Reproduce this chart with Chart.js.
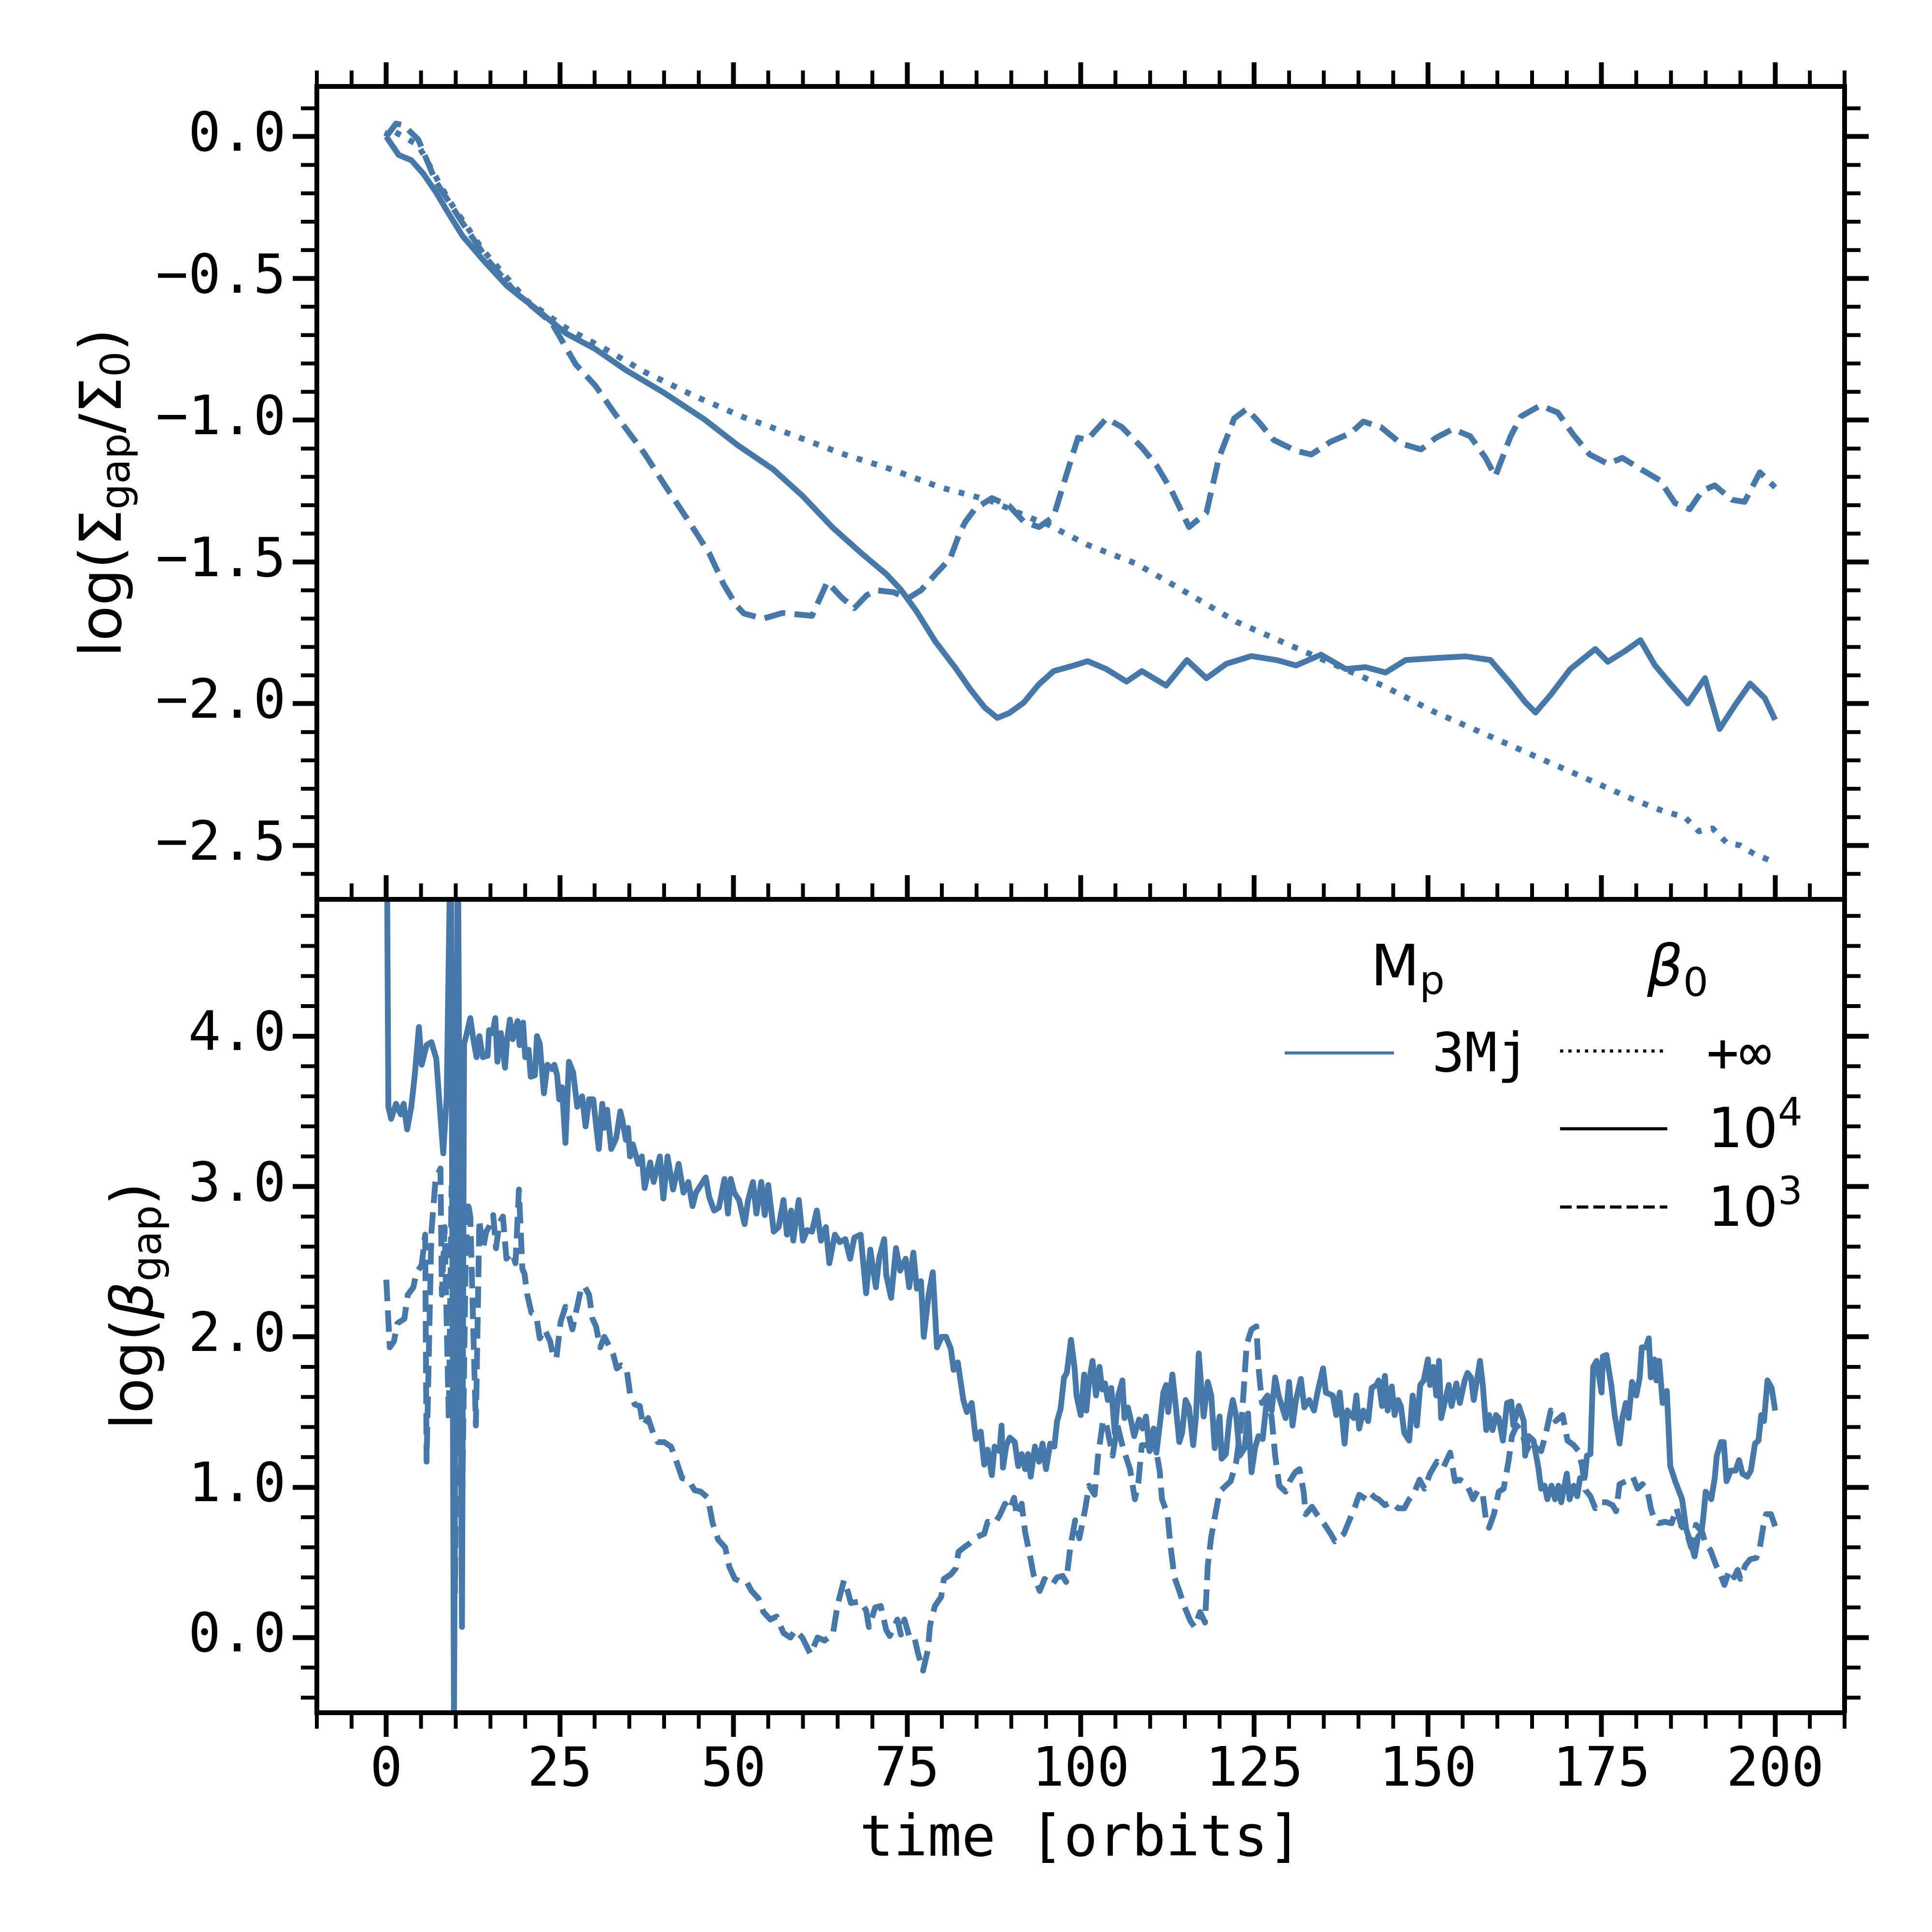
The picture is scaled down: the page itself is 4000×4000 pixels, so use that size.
<!DOCTYPE html>
<html>
<head>
<meta charset="utf-8">
<style>
  html, body { margin: 0; padding: 0; background: #fff; }
  #wrap { position: relative; width: 4000px; height: 4000px; }
  #wrap canvas { position: absolute; left: 0; top: 0; width: 4000px; height: 4000px; }
</style>
<script src="https://cdn.jsdelivr.net/npm/chart.js@4.4.1/dist/chart.umd.min.js"></script>
</head>
<body>
<div id="wrap">
  <canvas id="topPanel" width="4000" height="4000"></canvas>
  <canvas id="botPanel" width="4000" height="4000"></canvas>
</div>
<script>
// ---- data: [time in orbits, value] ----
const topInf = [[0,0],[0.4,0.027],[1,0.02],[4.6,-0.03],[8.9,-0.22],[13.9,-0.40],[20.3,-0.58],[25.9,-0.675],[31.6,-0.75],[37.2,-0.83],[44.4,-0.915],[51.5,-0.99],[58.6,-1.053],[65.6,-1.118],[72.7,-1.173],[79.8,-1.237],[86.9,-1.283],[93.3,-1.35],[95.5,-1.37],[97,-1.39],[101,-1.44],[108,-1.506],[115.3,-1.609],[122.4,-1.711],[129.6,-1.788],[136.8,-1.865],[143.9,-1.941],[151.1,-2.031],[158.3,-2.108],[165.5,-2.186],[172.7,-2.263],[179.8,-2.34],[184,-2.38],[187,-2.40],[189,-2.45],[191,-2.44],[193,-2.49],[195,-2.50],[197,-2.53],[200,-2.56]];

const topE4 = [[0,0],[1.8,-0.065],[3.6,-0.083],[5.3,-0.13],[7.1,-0.194],[8.9,-0.268],[11,-0.351],[13.9,-0.434],[17.4,-0.527],[21.7,-0.61],[25.9,-0.694],[30.1,-0.749],[34.4,-0.822],[40.1,-0.905],[45.8,-0.997],[50.7,-1.09],[55.7,-1.173],[59.9,-1.266],[64.2,-1.377],[68.4,-1.469],[72,-1.543],[74.1,-1.598],[76.3,-1.672],[79.1,-1.782],[82,-1.875],[84.1,-1.949],[86.2,-2.014],[88,-2.05],[89.7,-2.033],[91.8,-1.996],[94,-1.931],[96.1,-1.885],[98.9,-1.866],[101,-1.85],[103.7,-1.878],[106.6,-1.922],[108.8,-1.885],[112.3,-1.936],[115.3,-1.846],[118.1,-1.91],[121,-1.859],[124.6,-1.832],[128.2,-1.846],[131,-1.865],[134.6,-1.827],[138.2,-1.878],[141,-1.871],[143.9,-1.89],[146.8,-1.846],[151.1,-1.839],[155.4,-1.833],[159,-1.846],[161.9,-1.929],[164,-1.994],[165.5,-2.031],[167.7,-1.968],[170.5,-1.878],[174.1,-1.807],[175.9,-1.852],[178.4,-1.814],[180.6,-1.776],[182.7,-1.865],[184.9,-1.929],[187.4,-1.999],[189.9,-1.91],[192,-2.089],[194.2,-2.006],[196.4,-1.929],[198.5,-1.98],[200,-2.057]];

const topE3 = [[0,0],[1.4,0.046],[2.5,0.04],[4.6,-0.01],[7.1,-0.157],[11,-0.305],[14.6,-0.435],[18.8,-0.554],[23.8,-0.656],[27.3,-0.804],[30.1,-0.878],[33,-0.98],[37.2,-1.118],[40.1,-1.229],[43.6,-1.358],[46.5,-1.469],[48.6,-1.58],[50.4,-1.653],[51.5,-1.682],[54.3,-1.70],[57.1,-1.68],[61.3,-1.69],[63.5,-1.571],[65.6,-1.626],[67.4,-1.663],[69.2,-1.617],[70.6,-1.60],[73.1,-1.607],[75,-1.63],[77,-1.60],[79.1,-1.543],[81.2,-1.488],[82.6,-1.396],[83.4,-1.358],[84.8,-1.312],[87.2,-1.275],[89.7,-1.302],[91.8,-1.358],[94,-1.377],[96.1,-1.34],[96.8,-1.283],[98.2,-1.172],[99.6,-1.062],[100.9,-1.07],[103.7,-0.994],[105.9,-1.024],[108.8,-1.096],[110.9,-1.159],[113.1,-1.249],[115.6,-1.377],[118.1,-1.326],[119.9,-1.133],[122.1,-0.994],[123.9,-0.961],[125.6,-1.005],[127.8,-1.07],[131,-1.108],[133.2,-1.121],[136,-1.076],[138.9,-1.045],[140.7,-1.005],[143.2,-1.024],[146.1,-1.082],[149,-1.103],[151.1,-1.063],[153.6,-1.031],[156.1,-1.057],[158.3,-1.133],[159.7,-1.198],[161.9,-1.057],[163.4,-0.987],[166.2,-0.948],[168.7,-0.973],[170.9,-1.05],[173.3,-1.121],[175.9,-1.154],[178,-1.133],[180.6,-1.172],[183.4,-1.212],[185.6,-1.293],[187.7,-1.314],[189.5,-1.249],[191.3,-1.23],[193.8,-1.281],[195.6,-1.288],[197.8,-1.184],[200,-1.237]];

const botE4 = [[0,6],[0.3,3.53],[0.7,3.45],[1.4,3.55],[2.1,3.48],[2.5,3.55],[3.0,3.38],[3.6,3.53],[4.1,3.74],[4.7,4.06],[5.1,3.81],[5.8,3.94],[6.5,3.96],[7.2,3.85],[7.7,3.53],[8.2,3.22],[8.7,3.60],[9.3,5.5],[9.75,-0.6],[10.3,5.5],[10.9,0.07],[11.2,3.95],[11.5,4.0],[12.1,4.12],[12.5,3.99],[13,3.86],[13.4,4.0],[13.9,3.86],[14.6,3.87],[14.8,4.04],[15.3,4.02],[15.7,4.12],[16.0,3.83],[16.5,4.02],[17.1,3.79],[17.4,3.98],[17.8,4.11],[18.2,3.98],[18.9,4.1],[19.2,3.94],[19.7,4.09],[20.0,3.86],[20.5,3.91],[20.8,3.73],[21.4,3.74],[21.7,4.0],[22.1,3.95],[22.7,3.62],[23.2,3.81],[23.9,3.78],[24.2,3.81],[24.6,3.74],[24.9,3.58],[25.3,3.66],[25.8,3.29],[26.3,3.83],[26.9,3.76],[27.5,3.53],[28.2,3.60],[28.7,3.40],[29.2,3.58],[29.8,3.58],[30.6,3.25],[31.1,3.55],[31.4,3.39],[31.8,3.51],[32.4,3.25],[33.1,3.32],[33.7,3.50],[34.0,3.44],[34.5,3.31],[34.8,3.39],[35.1,3.20],[35.5,3.28],[36.3,3.15],[36.8,3.20],[37.2,2.99],[38.0,3.16],[38.5,3.03],[39.4,3.20],[39.9,2.92],[40.5,3.20],[41.3,2.98],[42.1,3.15],[42.8,2.96],[43.5,3.03],[44.1,2.87],[44.6,2.96],[46.0,3.06],[46.5,2.93],[47.2,2.84],[47.9,2.86],[48.7,3.05],[49.2,2.82],[49.6,3.05],[50.1,2.96],[50.8,2.91],[51.6,2.75],[52.1,2.91],[52.8,3.03],[53.3,2.82],[54.0,3.03],[54.5,2.81],[55.0,3.01],[55.8,2.70],[56.5,2.73],[57.2,2.91],[57.7,2.68],[58.3,2.84],[58.6,2.64],[59.4,2.91],[60.0,2.64],[60.6,2.71],[61.3,2.70],[62.0,2.84],[62.6,2.64],[63.3,2.73],[63.8,2.49],[64.6,2.68],[65.3,2.63],[66.1,2.65],[66.8,2.52],[67.4,2.66],[68.3,2.68],[69.1,2.29],[69.7,2.58],[70.5,2.33],[71.0,2.53],[71.7,2.65],[72.0,2.41],[72.7,2.26],[73.4,2.59],[74.0,2.44],[74.8,2.52],[75.3,2.33],[75.9,2.56],[76.4,2.32],[77.0,2.37],[77.4,2.0],[78.1,2.28],[78.7,2.43],[79.3,1.93],[80.0,2.0],[80.6,2.0],[81.3,1.92],[81.7,1.78],[82.3,1.83],[83.1,1.58],[83.6,1.50],[84.3,1.56],[84.9,1.32],[85.6,1.37],[86.1,1.15],[86.6,1.25],[87.2,1.08],[87.6,1.27],[88.3,1.24],[88.6,1.41],[88.8,1.13],[89.3,1.28],[89.8,1.33],[90.5,1.30],[91.0,1.14],[91.5,1.22],[92.0,1.12],[92.4,1.22],[92.8,1.07],[93.4,1.27],[94.0,1.17],[94.5,1.29],[95.0,1.12],[95.6,1.29],[96.2,1.27],[96.6,1.44],[97.1,1.52],[97.6,1.73],[98.0,1.76],[98.6,1.98],[99.1,1.80],[99.4,1.61],[100.0,1.48],[100.5,1.75],[100.8,1.51],[101.2,1.70],[101.7,1.84],[102.2,1.61],[102.7,1.80],[103.1,1.65],[103.5,1.69],[103.9,1.58],[104.4,1.66],[104.9,1.36],[105.4,1.61],[106.0,1.71],[106.3,1.46],[106.8,1.53],[107.2,1.45],[107.7,1.34],[108.4,1.45],[108.9,1.39],[109.4,1.47],[109.9,1.24],[110.5,1.39],[110.9,1.23],[111.4,1.42],[111.9,1.63],[112.3,1.68],[112.6,1.50],[113.2,1.75],[113.6,1.58],[114.2,1.30],[114.6,1.36],[115.1,1.58],[115.6,1.53],[116.2,1.28],[116.6,1.47],[117.0,1.89],[117.3,1.70],[117.7,1.47],[118.3,1.70],[118.8,1.61],[119.3,1.26],[120.0,1.47],[120.3,1.19],[120.9,1.22],[121.4,1.45],[121.9,1.58],[122.4,1.47],[122.9,1.21],[123.6,1.26],[124.1,1.49],[124.6,1.10],[125.1,1.26],[125.6,1.34],[126.2,1.32],[126.8,1.58],[127.5,1.51],[128.0,1.73],[128.5,1.61],[129.5,1.46],[130.0,1.70],[130.5,1.41],[131.0,1.58],[131.7,1.72],[132.2,1.53],[132.9,1.58],[133.6,1.51],[134.1,1.63],[134.9,1.79],[135.3,1.63],[136.3,1.61],[136.8,1.48],[137.3,1.63],[138.0,1.29],[138.4,1.51],[139.3,1.46],[139.7,1.61],[140.1,1.39],[140.7,1.51],[141.4,1.44],[141.9,1.66],[142.6,1.68],[142.9,1.71],[143.4,1.54],[143.8,1.74],[144.2,1.51],[144.8,1.67],[145.2,1.48],[145.7,1.58],[146.1,1.54],[146.6,1.36],[147.3,1.31],[147.8,1.61],[148.4,1.41],[148.9,1.68],[149.4,1.71],[150.0,1.85],[150.3,1.68],[150.8,1.80],[151.2,1.61],[151.6,1.84],[151.9,1.46],[152.5,1.58],[153.0,1.68],[153.4,1.54],[154.1,1.69],[154.6,1.56],[155.3,1.71],[155.7,1.76],[156.2,1.73],[156.6,1.58],[157.5,1.84],[157.9,1.68],[158.4,1.38],[158.8,1.48],[159.3,1.38],[159.8,1.48],[160.2,1.46],[160.8,1.31],[161.4,1.56],[162.0,1.57],[162.3,1.41],[163.1,1.54],[163.8,1.44],[164.0,1.21],[164.5,1.34],[165.2,1.31],[165.9,1.13],[166.3,0.99],[166.8,1.01],[167.2,0.92],[167.8,1.01],[168.3,0.92],[168.8,1.01],[169.2,0.90],[170.0,1.09],[170.4,0.92],[171.0,1.01],[171.5,0.94],[171.9,1.06],[172.6,1.07],[172.9,1.21],[173.4,1.22],[173.8,1.80],[174.3,1.84],[175.0,1.63],[175.2,1.87],[175.7,1.88],[176.4,1.68],[176.9,1.48],[177.6,1.29],[178.0,1.46],[178.5,1.56],[178.9,1.46],[179.4,1.70],[180.0,1.61],[180.5,1.73],[180.8,1.93],[181.4,1.93],[181.8,1.99],[182.1,1.73],[182.6,1.85],[182.9,1.71],[183.3,1.84],[183.8,1.56],[184.4,1.64],[184.9,1.14],[185.6,1.04],[186.6,0.92],[187.2,0.72],[187.9,0.62],[188.4,0.54],[188.9,0.67],[189.4,0.70],[189.7,0.82],[190.0,0.97],[190.8,0.92],[191.3,1.06],[191.6,1.21],[192.2,1.30],[192.6,1.30],[193.0,1.04],[193.6,1.11],[194.3,1.11],[194.8,1.18],[195.3,1.09],[196.0,1.07],[196.5,1.11],[197.1,1.29],[197.6,1.31],[198.0,1.48],[198.4,1.44],[198.9,1.71],[199.5,1.66],[200,1.51]];

const botE3 = [[0,2.38],[0.5,1.93],[1.1,1.97],[1.6,2.09],[2.6,2.12],[3.1,2.28],[3.9,2.33],[4.3,2.42],[5.1,2.48],[5.6,2.68],[5.8,1.17],[6.5,2.70],[7.1,3.05],[7.8,3.12],[8.0,2.28],[8.4,2.73],[9.0,1.45],[9.4,3.0],[9.9,0.3],[10.4,3.2],[10.9,0.8],[11.4,2.42],[11.7,2.91],[12.1,2.80],[12.9,1.41],[13.4,2.78],[13.9,2.58],[14.4,2.70],[14.9,2.74],[15.4,2.81],[15.8,2.59],[16.3,2.76],[16.8,2.80],[17.3,2.52],[18.1,2.56],[18.6,2.49],[19.1,2.98],[19.6,2.45],[19.9,2.42],[20.3,2.28],[20.9,2.16],[21.6,2.14],[22.1,1.99],[22.8,2.05],[23.6,1.97],[24.1,1.86],[24.5,1.86],[25.1,2.10],[25.8,2.20],[26.3,2.14],[26.8,2.05],[27.3,2.16],[28.0,2.31],[28.5,2.34],[29.2,2.28],[29.7,2.12],[30.2,2.07],[30.8,1.93],[31.4,2.00],[32.2,1.93],[32.7,1.88],[33.2,1.79],[33.8,1.81],[34.6,1.79],[35.1,1.62],[35.8,1.55],[36.5,1.54],[37.0,1.41],[37.7,1.46],[38.5,1.35],[39.1,1.30],[40.0,1.30],[41.0,1.27],[41.8,1.17],[42.6,1.06],[43.5,1.05],[44.4,0.98],[45.3,0.97],[46.3,0.93],[47.0,0.76],[47.8,0.65],[48.8,0.60],[49.4,0.47],[50.2,0.39],[51.1,0.37],[51.9,0.37],[52.6,0.31],[53.6,0.26],[54.3,0.17],[55.3,0.12],[56.2,0.14],[57.2,0.03],[58.2,0.00],[58.9,0.05],[59.9,0.00],[61.1,-0.11],[62.1,0.00],[63.1,-0.02],[64.3,0.02],[65.0,0.22],[65.9,0.38],[66.5,0.30],[66.9,0.23],[68.3,0.24],[69.1,0.18],[69.5,0.07],[70.4,0.20],[71.2,0.21],[72.0,0.05],[72.5,0.01],[73.6,0.12],[74.1,0.02],[74.6,0.12],[75.3,0.01],[76.0,0.01],[76.6,-0.11],[77.3,-0.22],[78.0,-0.08],[78.3,0.08],[79.0,0.21],[79.9,0.27],[80.3,0.39],[81.3,0.42],[82.0,0.46],[82.4,0.57],[83.2,0.60],[84.1,0.63],[85.1,0.67],[86.1,0.69],[86.6,0.77],[87.6,0.76],[88.3,0.81],[89.1,0.89],[89.8,0.85],[90.4,0.93],[90.8,0.81],[91.5,0.89],[92.0,0.70],[92.8,0.52],[93.2,0.42],[94.1,0.31],[94.8,0.39],[95.9,0.35],[96.6,0.40],[97.4,0.41],[97.9,0.37],[98.5,0.60],[99.2,0.78],[99.8,0.66],[100.2,0.75],[100.7,0.87],[101.2,1.01],[102.0,0.95],[102.5,1.21],[103.2,1.44],[103.6,1.44],[104.6,1.21],[105.3,1.41],[106.1,1.26],[107.1,1.12],[107.8,0.92],[108.3,1.03],[108.8,1.28],[109.6,1.28],[110.4,1.21],[111.0,1.21],[111.4,1.10],[111.7,0.92],[112.5,0.82],[112.9,0.62],[113.5,0.40],[114.2,0.31],[114.9,0.21],[115.8,0.11],[116.4,0.07],[117.2,0.17],[117.9,0.10],[118.3,0.48],[118.8,0.67],[119.3,0.80],[120.0,0.97],[120.9,1.01],[121.6,1.04],[122.4,1.17],[123.2,1.46],[123.9,1.95],[124.6,2.05],[125.3,2.07],[125.6,1.80],[126.1,1.56],[126.9,1.61],[127.5,1.46],[128.0,1.21],[128.6,1.01],[129.5,0.97],[130.1,1.04],[130.9,1.10],[131.5,1.12],[132.1,0.97],[132.4,0.82],[133.3,0.87],[134.0,0.82],[135.0,0.76],[136.0,0.69],[136.6,0.64],[137.9,0.69],[138.6,0.77],[139.5,0.87],[140.1,0.95],[141.1,0.92],[141.7,0.96],[142.4,0.93],[142.9,0.92],[143.8,0.88],[144.7,0.90],[145.7,0.86],[146.6,0.86],[147.3,0.92],[148.0,0.96],[148.8,1.05],[149.5,0.99],[150.3,1.09],[151.3,1.17],[152.2,1.13],[153.2,1.23],[153.9,1.04],[154.6,1.05],[155.6,1.02],[156.5,0.92],[157.2,0.98],[157.9,0.95],[158.4,0.77],[158.8,0.73],[159.5,0.82],[160.2,0.97],[160.9,0.99],[161.6,1.17],[162.1,1.34],[162.8,1.41],[163.6,1.36],[164.2,1.24],[164.9,1.31],[165.6,1.26],[166.3,1.24],[167.0,1.36],[167.7,1.51],[168.4,1.44],[169.4,1.48],[170.1,1.31],[171.0,1.28],[171.7,1.24],[172.2,1.14],[172.7,0.98],[173.4,0.94],[174.1,0.86],[174.8,0.90],[175.7,0.90],[176.6,0.88],[177.1,0.84],[177.6,1.02],[178.5,1.04],[179.5,1.07],[180.2,0.99],[180.9,1.02],[181.6,0.98],[182.1,0.86],[182.5,0.80],[183.2,0.76],[184.1,0.77],[185.1,0.76],[185.8,0.86],[186.5,0.74],[187.2,0.71],[187.9,0.60],[188.6,0.75],[189.5,0.70],[190.0,0.62],[190.7,0.58],[191.5,0.48],[192.2,0.41],[192.7,0.35],[193.4,0.45],[194.1,0.40],[194.6,0.45],[195.0,0.39],[195.7,0.48],[196.4,0.52],[197.3,0.53],[197.8,0.60],[198.3,0.74],[198.7,0.82],[199.4,0.82],[200,0.74]];

const xRange = [-10, 210];
const topRange = [-2.69, 0.177];
const botRange = [-0.5, 4.91];

const legendMass = ['3Mj'];
const legendBeta = ['+\u221e', '10', '10'];
const legendBetaExp = ['', '4', '3'];

// ---- look ----
const BLUE = 'rgb(70,120,170)';
const MONO = '"DejaVu Sans Mono"';
const SANS = '"DejaVu Sans"';
const LW = 12;
const DASH = [3.7 * LW, 1.6 * LW];
const DOT = [1 * LW, 1.65 * LW];

// chart area edges in page pixels
const L = 656, R = 3819, T = 179, M = 1862, B = 3546;

const fix = size => s => { if (s.isHorizontal()) s.height = size; else s.width = size; };
const fmt1 = v => (Math.abs(v) < 1e-9 ? 0 : v).toFixed(1).replace('-', '\u2212');
const fmt0 = v => String(Math.round(v));
const none = () => '';

function axis(position, range, step, size, cb, pad) {
  return {
    type: 'linear', position, min: range[0], max: range[1],
    afterFit: fix(size),
    border: { display: true, color: '#000', width: 10, z: 1 },
    grid: { drawOnChartArea: false, drawTicks: true, tickLength: 50, tickWidth: 10, tickColor: '#000' },
    ticks: { stepSize: step, includeBounds: false, autoSkip: false, maxRotation: 0,
             padding: pad, color: '#000', font: { family: MONO, size: 112 }, callback: cb }
  };
}

function line(data, dash) {
  return {
    data: data.map(p => ({ x: p[0], y: p[1] })),
    borderColor: BLUE, borderWidth: LW, borderDash: dash,
    borderCapStyle: 'butt', borderJoinStyle: 'round',
    pointRadius: 0, fill: false, tension: 0
  };
}

// draws pieces of text one after another: [text, font, dy]
function rich(ctx, parts, x, y, rot, centred) {
  ctx.save();
  ctx.translate(x, y);
  ctx.rotate(rot);
  ctx.fillStyle = '#000';
  ctx.textBaseline = 'alphabetic';
  ctx.textAlign = 'left';
  let total = 0;
  const w = parts.map(p => { ctx.font = p[1]; const m = ctx.measureText(p[0]).width; total += m; return m; });
  let cur = centred ? -total / 2 : 0;
  parts.forEach((p, i) => { ctx.font = p[1]; ctx.fillText(p[0], cur, p[2] || 0); cur += w[i]; });
  ctx.restore();
}

const minorTicks = {
  id: 'minorTicks',
  afterDraw(chart, args, opts) {
    const ctx = chart.ctx;
    ctx.save();
    ctx.strokeStyle = '#000';
    ctx.lineWidth = 8;
    ctx.lineCap = 'butt';
    for (const m of opts.list) {
      const s = chart.scales[m.id];
      const n = Math.round((m.to - m.from) / m.step);
      for (let i = 0; i <= n; i++) {
        const v = Math.round((m.from + i * m.step) * 1000) / 1000;
        const q = v / m.major;
        if (Math.abs(q - Math.round(q)) < 1e-6) continue;
        const p = s.getPixelForValue(v);
        ctx.beginPath();
        if (s.position === 'left') { ctx.moveTo(s.right, p); ctx.lineTo(s.right - 33, p); }
        else if (s.position === 'right') { ctx.moveTo(s.left, p); ctx.lineTo(s.left + 33, p); }
        else if (s.position === 'top') { ctx.moveTo(p, s.bottom); ctx.lineTo(p, s.bottom - 33); }
        else { ctx.moveTo(p, s.top); ctx.lineTo(p, s.top + 33); }
        ctx.stroke();
      }
    }
    ctx.restore();
  }
};

const yTitles = {
  id: 'yTitles',
  afterDraw(chart, args, opts) {
    const big = '120px ' + SANS, small = '84px ' + SANS;
    rich(chart.ctx, opts.parts.map(p => [p[0], p[1] === 'sub' ? small : (p[1] === 'it' ? 'italic ' + big : big), p[1] === 'sub' ? 18 : 0]),
         opts.x, opts.y, -Math.PI / 2, true);
  }
};

const legendBox = {
  id: 'legendBox',
  afterDraw(chart) {
    const ctx = chart.ctx;
    const head = '117px ' + SANS, headSub = '82px ' + SANS;
    rich(ctx, [['M', head], ['p', headSub, 18]], 2838, 2040, 0, false);
    rich(ctx, [['\u03b2', 'italic ' + head], ['0', headSub, 22]], 3410, 2040, 0, false);

    ctx.save();
    ctx.lineCap = 'butt';
    ctx.lineWidth = 6.5;
    ctx.strokeStyle = BLUE;
    ctx.beginPath(); ctx.moveTo(2660, 2180); ctx.lineTo(2886, 2180); ctx.stroke();
    ctx.strokeStyle = '#000';
    const rows = [2176, 2337, 2499];
    const dashes = [[6.5, 10.7], [], [24, 10.4]];
    rows.forEach((y, i) => {
      ctx.setLineDash(dashes[i]);
      ctx.beginPath(); ctx.moveTo(3230, y); ctx.lineTo(3452, y); ctx.stroke();
    });
    ctx.restore();

    rich(ctx, [[legendMass[0], '112px ' + MONO]], 2965, 2218, 0, false);
    rich(ctx, [[legendBeta[0], '112px ' + MONO]], 3533, 2218, 0, false);
    rich(ctx, [[legendBeta[1], '114px ' + SANS], [legendBetaExp[1], '80px ' + SANS, -45]], 3536, 2375, 0, false);
    rich(ctx, [[legendBeta[2], '114px ' + SANS], [legendBetaExp[2], '80px ' + SANS, -45]], 3536, 2538, 0, false);
  }
};

const base = {
  responsive: false, animation: false, devicePixelRatio: 1, events: [],
  plugins: { legend: { display: false }, tooltip: { enabled: false } }
};

// ---- top panel: log(Sigma_gap / Sigma_0) ----
new Chart(document.getElementById('topPanel'), {
  type: 'line',
  data: { datasets: [line(topInf, DOT), line(topE4, []), line(topE3, DASH)] },
  options: {
    ...base,
    layout: { padding: { left: 0, right: 0, top: 0, bottom: 4000 - M } },
    scales: {
      x: axis('top', xRange, 25, T, none, 0),
      y: axis('left', topRange, 0.5, L, fmt1, 14),
      y2: axis('right', topRange, 0.5, 4000 - R, none, 0)
    },
    plugins: {
      ...base.plugins,
      minorTicks: { list: [
        { id: 'x', from: -10, to: 210, step: 5, major: 25 },
        { id: 'y', from: -2.6, to: 0.1, step: 0.1, major: 0.5 },
        { id: 'y2', from: -2.6, to: 0.1, step: 0.1, major: 0.5 }
      ] },
      yTitles: { x: 250, y: (T + M) / 2, parts: [['log(', 'n'], ['\u03a3', 'n'], ['gap', 'sub'], ['/', 'n'], ['\u03a3', 'n'], ['0', 'sub'], [')', 'n']] }
    }
  },
  plugins: [minorTicks, yTitles]
});

// ---- bottom panel: log(beta_gap) ----
new Chart(document.getElementById('botPanel'), {
  type: 'line',
  data: { datasets: [line(botE4, []), line(botE3, DASH)] },
  options: {
    ...base,
    layout: { padding: 0 },
    scales: {
      x: { ...axis('bottom', xRange, 25, 4000 - B, fmt0, 5),
           title: { display: true, text: 'time [orbits]', color: '#000', font: { family: MONO, size: 117 }, padding: { top: 0, bottom: 118 } } },
      x2: axis('top', xRange, 25, M, none, 0),
      y: axis('left', botRange, 1, L, fmt1, 14),
      y2: axis('right', botRange, 1, 4000 - R, none, 0)
    },
    plugins: {
      ...base.plugins,
      minorTicks: { list: [
        { id: 'x', from: -10, to: 210, step: 5, major: 25 },
        { id: 'x2', from: -10, to: 210, step: 5, major: 25 },
        { id: 'y', from: -0.4, to: 4.8, step: 0.2, major: 1 },
        { id: 'y2', from: -0.4, to: 4.8, step: 0.2, major: 1 }
      ] },
      yTitles: { x: 315, y: (M + B) / 2, parts: [['log(', 'n'], ['\u03b2', 'it'], ['gap', 'sub'], [')', 'n']] }
    }
  },
  plugins: [minorTicks, yTitles, legendBox]
});
</script>
</body>
</html>
